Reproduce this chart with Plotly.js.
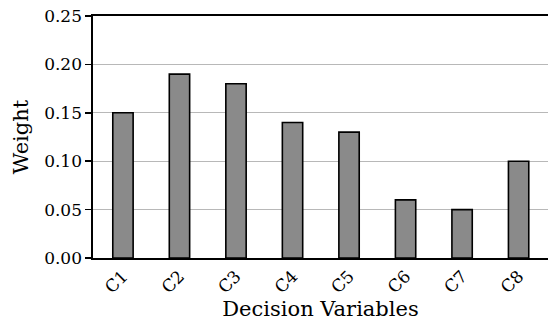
<!DOCTYPE html>
<html>
<head>
<meta charset="utf-8">
<script src="https://cdn.plot.ly/plotly-3.0.1.min.js"></script>
<style>html,body{margin:0;padding:0;background:#fff;}#chart{width:548px;height:327px;}</style>
</head>
<body>
<div id="chart"></div>
<script>
const categories = ["C1","C2","C3","C4","C5","C6","C7","C8"];
const weights = [0.15, 0.19, 0.18, 0.14, 0.13, 0.06, 0.05, 0.10];
const yTicks = [0, 0.05, 0.10, 0.15, 0.20, 0.25];
const yTickLabels = ["0.00","0.05","0.10","0.15","0.20","0.25"];

const font = "'DejaVu Serif', 'Liberation Serif', serif";
Plotly.newPlot("chart", [{
  type: "bar",
  x: categories,
  y: weights,
  width: 0.36,
  marker: {color: "#8a8a8a", line: {color: "#000", width: 1.6}},
  hoverinfo: "none"
}], {
  width: 548, height: 327,
  margin: {l: 93, r: 0, t: 16, b: 69},
  paper_bgcolor: "#fff", plot_bgcolor: "#fff",
  showlegend: false,
  font: {family: font, color: "#000", size: 17},
  xaxis: {
    range: [-0.53, 7.52],
    showline: true, linecolor: "#000", linewidth: 1.6, mirror: true,
    showgrid: false, zeroline: false,
    ticks: "", tickangle: -45,
    tickfont: {family: font, size: 17},
    title: {text: "Decision Variables", font: {family: font, size: 21}, standoff: 5}
  },
  yaxis: {
    range: [0, 0.25],
    tickvals: yTicks, ticktext: yTickLabels,
    showline: true, linecolor: "#000", linewidth: 1.6,
    ticks: "outside", ticklen: 6, tickwidth: 1.6, tickcolor: "#000",
    showgrid: true, gridcolor: "#b8b8b8", gridwidth: 1.2,
    zeroline: false,
    tickfont: {family: font, size: 17},
    title: {text: "Weight", font: {family: font, size: 21}, standoff: 10}
  }
}, {staticPlot: true});
</script>
</body>
</html>
